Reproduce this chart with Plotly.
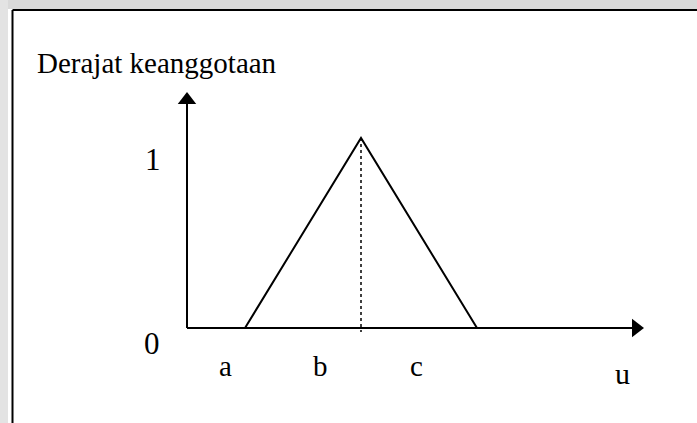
import plotly.graph_objects as go

# ---- data ----
param_names = ["a", "b", "c"]          # parameters of the triangular membership function
param_values = [1.0, 3.0, 5.0]         # u positions of a, b, c
membership = [0.0, 1.0, 0.0]           # degree of membership at a, b, c
y_tick_labels = ["0", "1"]
y_title = "Derajat keanggotaan"
x_title = "u"

# ---- layout constants ----
W, H = 697, 423
ORIGIN_PX = (187, 328)     # pixel position of (0, 0)
PX_PER_U = 58.0
PX_PER_MU = 190.0

def u_of(px):
    return (px - ORIGIN_PX[0]) / PX_PER_U

def mu_of(py):
    return (ORIGIN_PX[1] - py) / PX_PER_MU

x_range = [u_of(0), u_of(W)]
y_range = [mu_of(H), mu_of(0)]

x_axis_end = u_of(636)      # arrow head centre
y_axis_end = mu_of(100)
FONT = "Liberation Serif, Times New Roman, serif"
BLACK = "#000000"

fig = go.Figure()

# axes lines
fig.add_trace(go.Scatter(x=[0, 0], y=[0, y_axis_end], mode="lines",
                         line=dict(color=BLACK, width=2), hoverinfo="skip"))
fig.add_trace(go.Scatter(x=[0, x_axis_end], y=[0, 0], mode="lines",
                         line=dict(color=BLACK, width=2), hoverinfo="skip"))
# arrow heads
fig.add_trace(go.Scatter(x=[0], y=[y_axis_end], mode="markers",
                         marker=dict(symbol="triangle-up", size=16, color=BLACK,
                                     line=dict(width=0)), hoverinfo="skip"))
fig.add_trace(go.Scatter(x=[x_axis_end], y=[0], mode="markers",
                         marker=dict(symbol="triangle-right", size=16, color=BLACK,
                                     line=dict(width=0)), hoverinfo="skip"))

# dotted line at the peak
peak_u = param_values[1]
fig.add_trace(go.Scatter(x=[peak_u, peak_u], y=[membership[1], mu_of(332)], mode="lines",
                         line=dict(color=BLACK, width=1.5, dash="dot"), hoverinfo="skip"))

# triangular membership function
fig.add_trace(go.Scatter(x=param_values, y=membership, mode="lines",
                         line=dict(color=BLACK, width=2), hoverinfo="skip"))

annotations = []
def label(text, px, py, size, xanchor="center"):
    annotations.append(dict(x=u_of(px), y=mu_of(py), xref="x", yref="y", text=text,
                            showarrow=False, xanchor=xanchor, yanchor="middle",
                            font=dict(family=FONT, size=size, color=BLACK)))

label(y_title, 35, 63, 29, xanchor="left")
label(y_tick_labels[1], 153, 159, 31)
label(y_tick_labels[0], 152, 343, 31)
for name, px in zip(param_names, [225, 320, 416]):
    label(name, px, 366, 29)
label(x_title, 622, 373, 30)

shapes = [
    # grey page band around the frame
    dict(type="rect", xref="paper", yref="paper", x0=0, x1=1, y0=1 - 9 / H, y1=1,
         fillcolor="#d9d9d9", line=dict(width=0), layer="below"),
    dict(type="rect", xref="paper", yref="paper", x0=0, x1=8 / W, y0=0, y1=1,
         fillcolor="#e3e3e3", line=dict(width=0), layer="below"),
    # frame lines
    dict(type="line", xref="paper", yref="paper", x0=12.5 / W, x1=1, y0=1 - 10 / H, y1=1 - 10 / H,
         line=dict(color=BLACK, width=2)),
    dict(type="line", xref="paper", yref="paper", x0=12.5 / W, x1=12.5 / W, y0=0, y1=1 - 10 / H,
         line=dict(color=BLACK, width=2)),
]

fig.update_layout(
    width=W, height=H,
    margin=dict(l=0, r=0, t=0, b=0),
    paper_bgcolor="white", plot_bgcolor="white",
    showlegend=False,
    xaxis=dict(range=x_range, visible=False, fixedrange=True),
    yaxis=dict(range=y_range, visible=False, fixedrange=True),
    annotations=annotations,
    shapes=shapes,
)

fig.write_html("out.html", config={"displayModeBar": False},
               post_script="document.body.style.margin='0';document.body.style.overflow='hidden';")
